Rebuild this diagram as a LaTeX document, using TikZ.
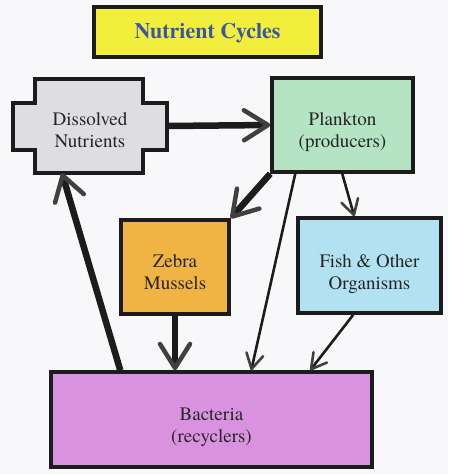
\documentclass[tikz,border=0pt]{standalone}
\usepackage{fontspec}
\setmainfont{texgyretermes}[Extension=.otf, UprightFont=*-regular, BoldFont=*-bold, ItalicFont=*-italic, BoldItalicFont=*-bolditalic]
\usetikzlibrary{arrows.meta,calc}
\definecolor{bg}{HTML}{F8F8FA}
\definecolor{edge}{HTML}{1C1C1C}
\definecolor{tipc}{HTML}{404040}
\definecolor{txt}{HTML}{262626}
\definecolor{titlefill}{HTML}{F2EE3C}
\definecolor{titletxt}{HTML}{3A55A5}
\definecolor{dissfill}{HTML}{DEDEE2}
\definecolor{plankfill}{HTML}{B4E4C4}
\definecolor{fishfill}{HTML}{B2E2F2}
\definecolor{zebrafill}{HTML}{F0B444}
\definecolor{bactfill}{HTML}{D892E0}
\begin{document}
\begin{tikzpicture}[x=1pt,y=-1pt,
  boxstyle/.style={draw=edge, line width=3.5pt, inner sep=0pt},
  lbl/.style={text=txt, align=center, font=\fontsize{19}{22}\selectfont, inner sep=0pt},
  thickarrow/.style={draw=edge, line width=6.5pt,
    -{Straight Barb[length=24pt,width=30pt,line width=4.5pt,color=tipc,round]}},
  thinarrow/.style={draw=edge, line width=2.6pt,
    -{Straight Barb[length=15pt,width=17pt,line width=2.6pt,color=tipc,round]}}]
\useasboundingbox (0,0) rectangle (448,474);
\fill[bg] (0,0) rectangle (448,474);

% title
\node[boxstyle, fill=titlefill, minimum width=227pt, minimum height=50pt] (title) at (207.5,32) {};
\node[text=titletxt, font=\fontsize{22}{26}\selectfont\bfseries, inner sep=0pt] (titletext) at (207.5,33) {Nutrient Cycles};

% dissolved nutrients (cross shape)
\node[minimum width=154pt, minimum height=94pt, inner sep=0pt] (diss) at (90,126) {};
\draw[draw=edge, line width=3.5pt, fill=dissfill]
  (35,79) -- (143,79) -- (143,103) -- (167,103) -- (167,150) -- (143,150) -- (143,173)
  -- (35,173) -- (35,150) -- (13,150) -- (13,103) -- (35,103) -- cycle;
\node[lbl] (disstext) at (90,130) {Dissolved\\Nutrients};

% plankton
\node[boxstyle, fill=plankfill, minimum width=141pt, minimum height=94pt] (plank) at (342.5,125) {};
\node[lbl] (planktext) at (342.5,132.5) {Plankton\\(producers)};

% zebra mussels
\node[boxstyle, fill=zebrafill, minimum width=108pt, minimum height=94pt] (zebra) at (175,267) {};
\node[lbl] (zebratext) at (175,272.5) {Zebra\\Mussels};

% fish
\node[boxstyle, fill=fishfill, minimum width=143pt, minimum height=95pt] (fish) at (369.5,265.5) {};
\node[lbl] (fishtext) at (369.5,274) {Fish \& Other\\Organisms};

% bacteria
\node[boxstyle, fill=bactfill, minimum width=321pt, minimum height=95pt] (bact) at (211.5,419.5) {};
\node[lbl] (bacttext) at (211.5,427) {Bacteria\\(recyclers)};

% connectors
\draw[thickarrow] (diss.east) -- (plank.west);
\draw[thickarrow] (plank.south west) -- (zebra.north east);
\draw[thickarrow] (zebra.south) -- (bact.north -| zebra.south);
\draw[thickarrow] ($(bact.north west)+(71,0)$) -- ($(diss.south)+(-28,0)$);
\draw[thinarrow] ($(plank.south west)+(25,0)$) -- ($(bact.north west)+(202,0)$);
\draw[thinarrow] ($(plank.south west)+(72,0)$) -- ($(fish.north west)+(58,0)$);
\draw[thinarrow] ($(fish.south west)+(57,0)$) -- ($(bact.north west)+(261,0)$);
\end{tikzpicture}
\end{document}
